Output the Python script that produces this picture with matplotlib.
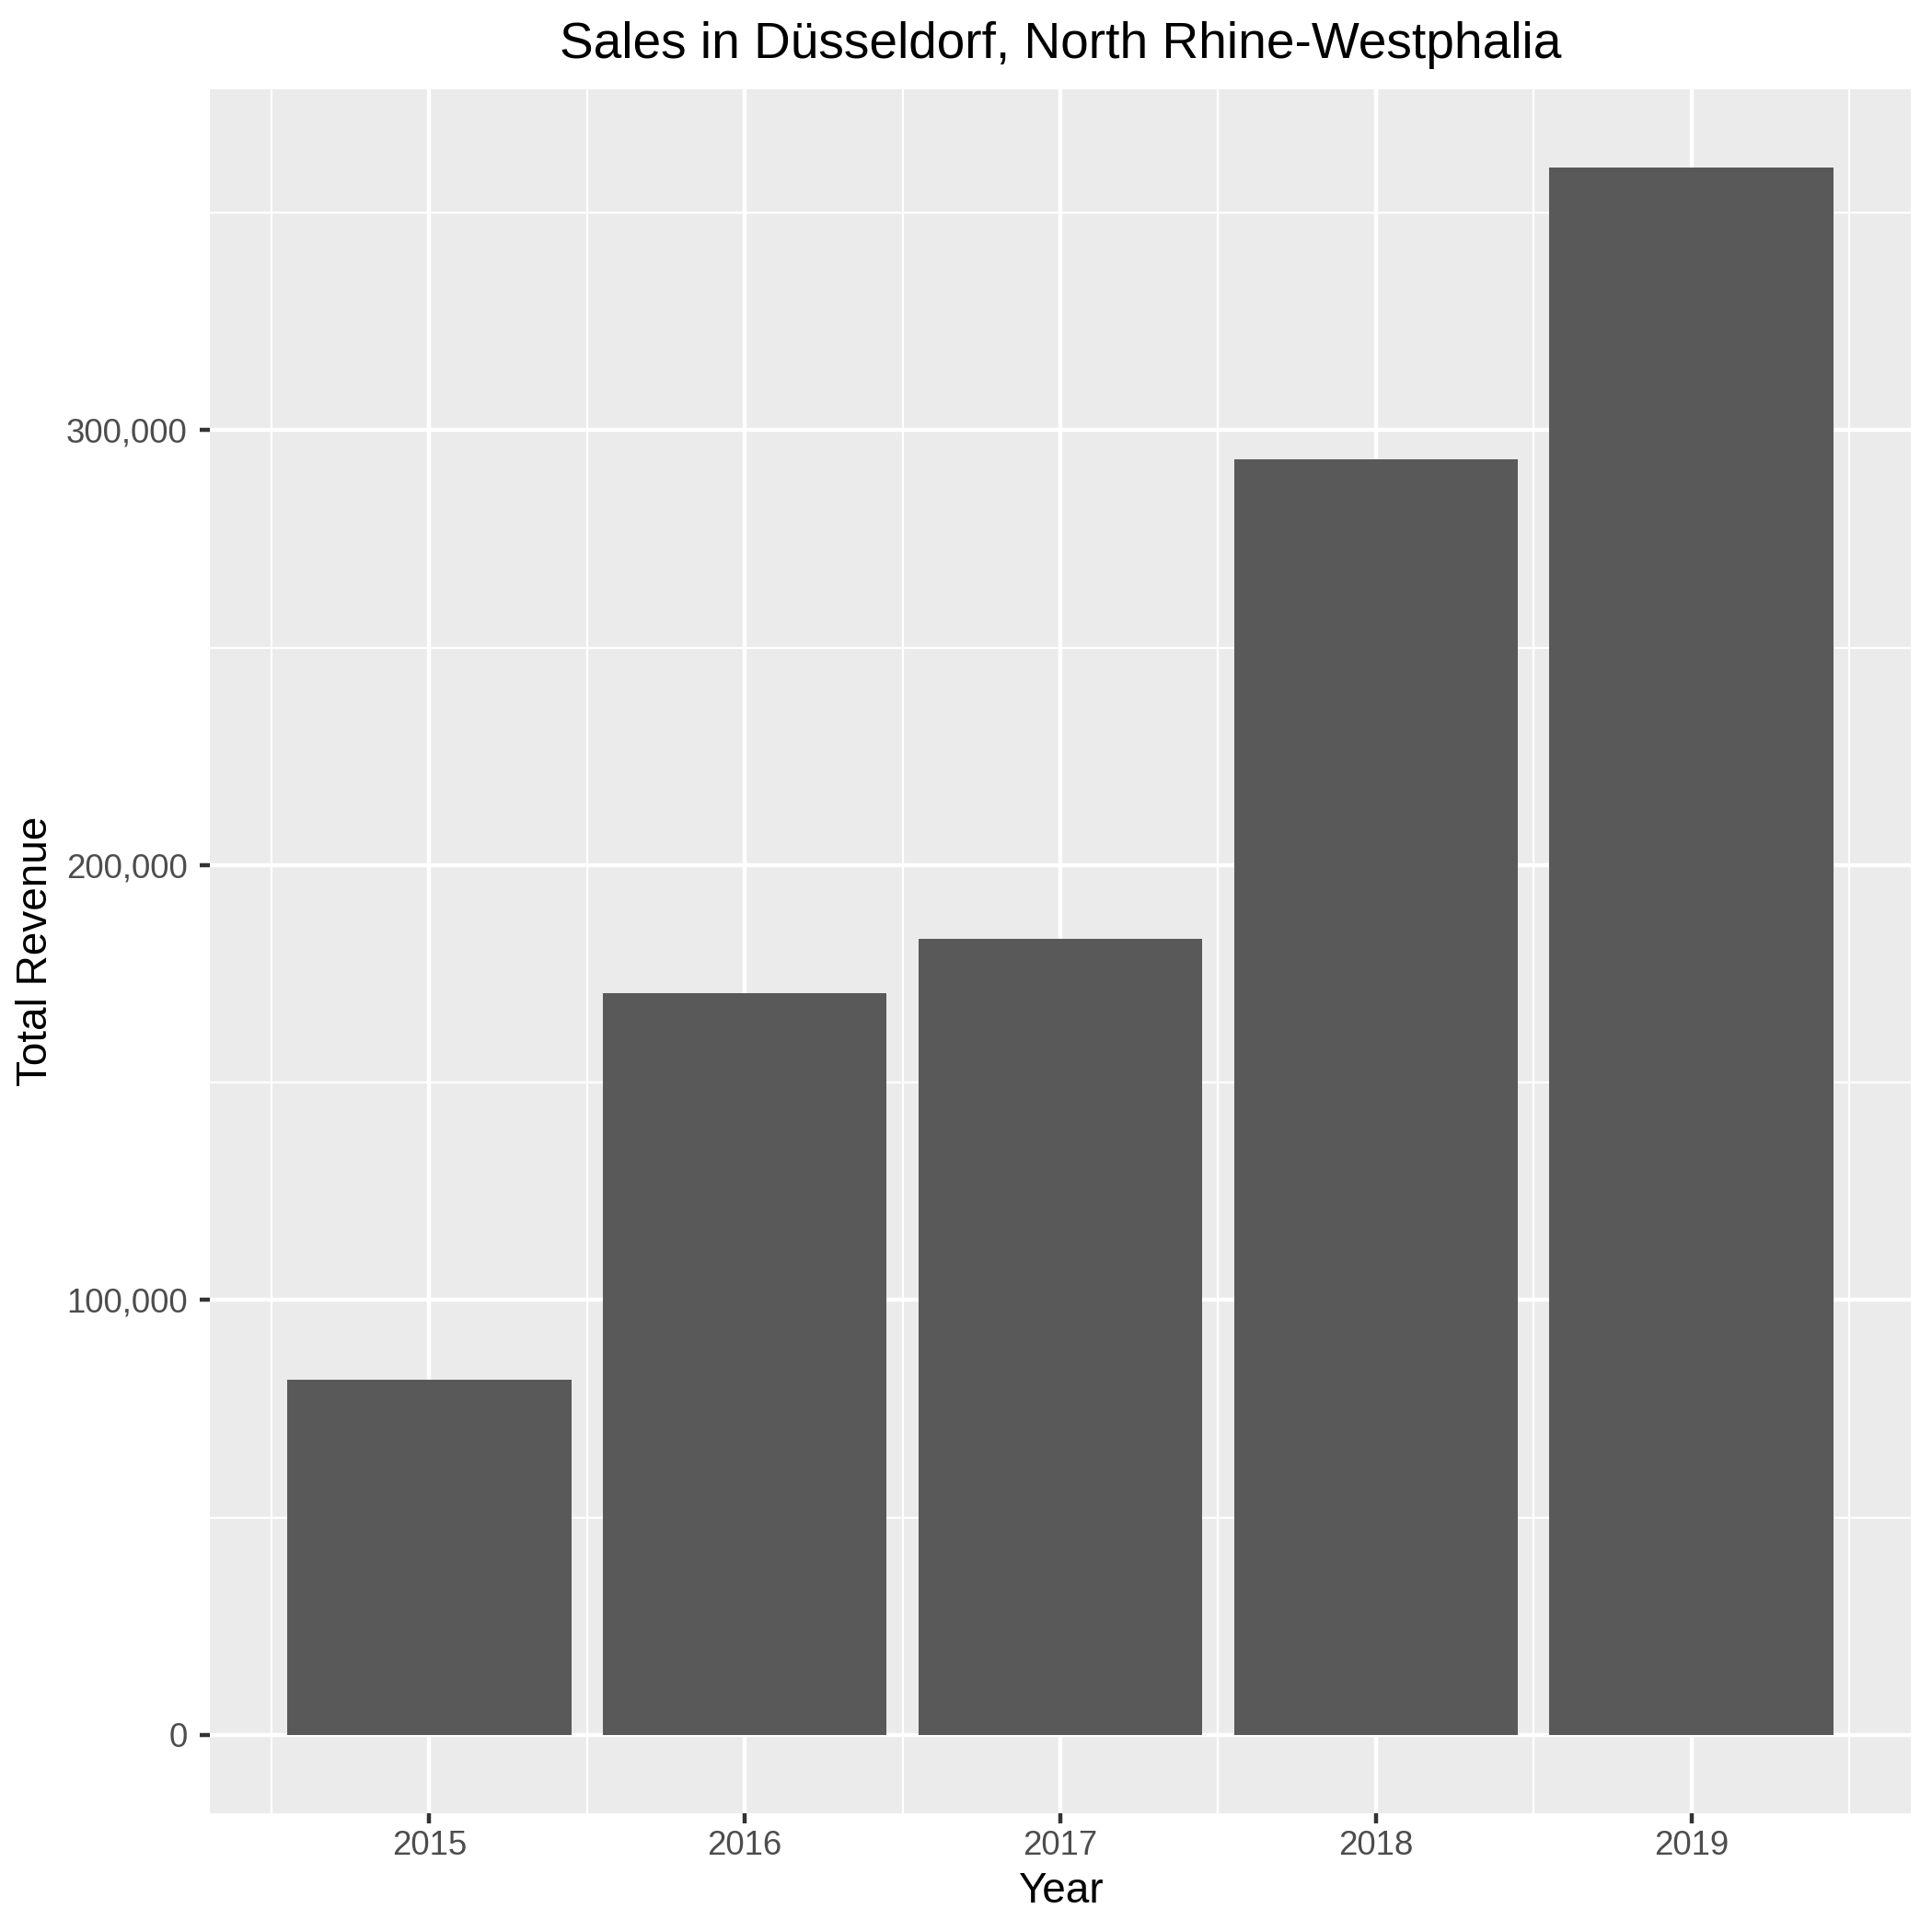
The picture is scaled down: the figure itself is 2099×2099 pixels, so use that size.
import matplotlib
matplotlib.use("Agg")
import matplotlib.pyplot as plt
from matplotlib.ticker import FuncFormatter, FixedLocator

years = [2015, 2016, 2017, 2018, 2019]
revenue = [81700, 170600, 183100, 293400, 360400]
y_ticks = [0, 100000, 200000, 300000]
y_minor = [50000, 150000, 250000, 350000]
x_minor = [2014.5, 2015.5, 2016.5, 2017.5, 2018.5, 2019.5]

plt.rcParams['font.family'] = ['Liberation Sans', 'DejaVu Sans']

W = 2099
fig = plt.figure(figsize=(W/300, W/300), dpi=300)
left, right, bottom, top = 228/W, 2076/W, 1 - 1970/W, 1 - 97/W
ax = fig.add_axes([left, bottom, right - left, top - bottom])
ax.set_facecolor('#EBEBEB')
for s in ax.spines.values():
    s.set_visible(False)

ax.bar(years, revenue, width=0.9, color='#595959', zorder=3)

lo, hi = 2014.55, 2019.45
pad = (hi - lo) * 0.05
ax.set_xlim(lo - pad, hi + pad)
ymax = max(revenue)
ax.set_ylim(-ymax * 0.05, ymax * 1.05)

ax.xaxis.set_major_locator(FixedLocator(years))
ax.xaxis.set_minor_locator(FixedLocator(x_minor))
ax.yaxis.set_major_locator(FixedLocator(y_ticks))
ax.yaxis.set_minor_locator(FixedLocator(y_minor))
ax.yaxis.set_major_formatter(FuncFormatter(lambda v, p: f"{int(v):,}"))

ax.grid(which='major', color='white', linewidth=1.07, zorder=1)
ax.grid(which='minor', color='white', linewidth=0.53, zorder=1)
ax.set_axisbelow(True)

ax.tick_params(which='major', length=2.75, width=1.07, color='#333333',
               labelsize=8.8, labelcolor='#4D4D4D')
ax.tick_params(axis='x', which='major', pad=1.6)
ax.tick_params(axis='y', which='major', pad=3.1)
ax.tick_params(which='minor', length=0)

cx = (left + right) / 2
cy = (bottom + top) / 2
fig.text(cx, 1 - 63/W, 'Sales in Düsseldorf, North Rhine-Westphalia',
         fontsize=13.2, color='black', ha='center', va='baseline')
fig.text(cx, 1 - 2067/W, 'Year', fontsize=11, color='black',
         ha='center', va='baseline')
fig.text(39/W, cy, 'Total Revenue', fontsize=11, color='black',
         ha='center', va='center', rotation=90)

fig.savefig('out.png', dpi=300, facecolor='white')
